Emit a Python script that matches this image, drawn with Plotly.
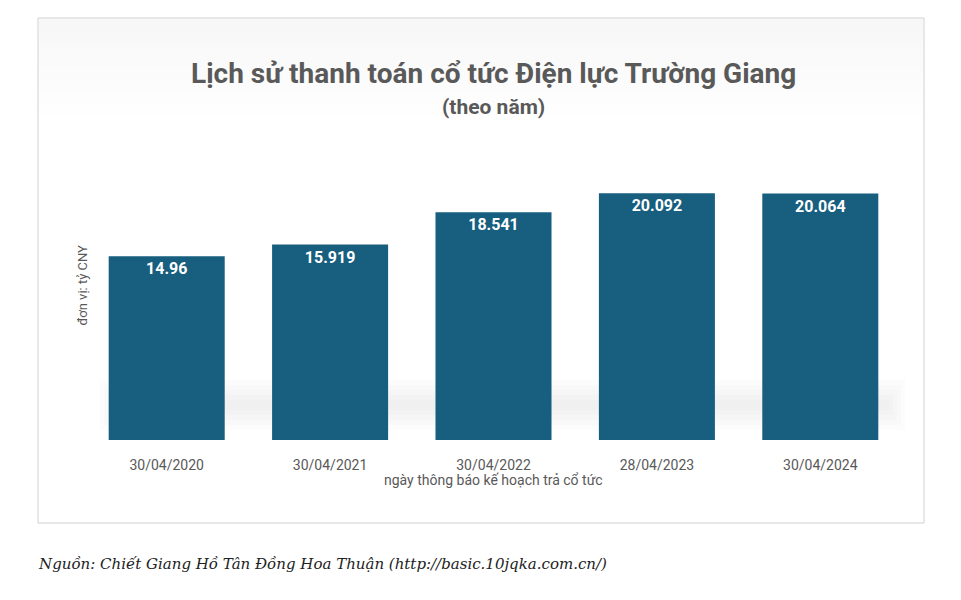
import plotly.graph_objects as go

dates = ["30/04/2020", "30/04/2021", "30/04/2022", "28/04/2023", "30/04/2024"]
dividends = [14.96, 15.919, 18.541, 20.092, 20.064]
labels = ["14.96", "15.919", "18.541", "20.092", "20.064"]

W, H = 961, 600
OFF = 8  # the page places the figure 8px from the top-left corner
L, R, T, B = 85 - OFF, 59 + OFF, 133 - OFF, 160 + OFF
pw, ph = W - L - R, H - T - B

def px(x):
    return (x - OFF - L) / pw

def py(y):
    return (H - B - (y - OFF)) / ph

fig = go.Figure()
fig.add_trace(go.Bar(
    x=dates, y=dividends, text=["<b>%s</b>" % s for s in labels], textposition="inside",
    insidetextanchor="end",
    textfont=dict(color="white", size=16, family="Roboto"),
    marker=dict(color="#175e7f", line=dict(width=0)),
    cliponaxis=False,
))

shapes = [dict(type="rect", xref="paper", yref="paper",
               x0=px(38), x1=px(924), y0=py(523), y1=py(18),
               line=dict(color="#d0d0d0", width=1), fillcolor="rgba(0,0,0,0)")]
for i in range(8):
    shapes.append(dict(type="rect", xref="paper", yref="paper", layer="below",
                       x0=px(39), x1=px(923), y0=py(19 + i * 12), y1=py(31 + i * 12),
                       line=dict(width=0), fillcolor="rgba(200,200,200,%.3f)" % (0.14 - i * 0.017)))
for i in range(6):
    shapes.append(dict(type="rect", xref="paper", yref="paper", layer="below",
                       x0=px(100 + i * 4), x1=px(905 - i * 4),
                       y0=py(430 - i * 5), y1=py(380 + i * 5),
                       line=dict(width=0), fillcolor="rgba(170,170,170,0.04)"))

fig.update_layout(
    width=W, height=H, margin=dict(l=L, r=R, t=T, b=B),
    paper_bgcolor="white", plot_bgcolor="rgba(0,0,0,0)",
    bargap=0.29, showlegend=False, shapes=shapes,
    font=dict(family="Roboto", color="#595959"),
    xaxis=dict(tickfont=dict(size=14, color="#595959"), showline=False, ticks="outside",
               ticklen=12, tickcolor="rgba(0,0,0,0)"),
    yaxis=dict(range=[0, 25], visible=False),
    annotations=[
        dict(text="<b>Lịch sử thanh toán cổ tức Điện lực Trường Giang</b>", x=0.5, y=py(55),
             xref="paper", yref="paper", showarrow=False, font=dict(size=28, color="#595959")),
        dict(text="<b>(theo năm)</b>", x=0.5, y=py(93), xref="paper", yref="paper",
             showarrow=False, font=dict(size=21, color="#595959")),
        dict(text="ngày thông báo kế hoạch trả cổ tức", x=0.5, y=py(490), xref="paper",
             yref="paper", showarrow=False, font=dict(size=14, color="#595959")),
        dict(text="đơn vị: tỷ CNY", x=px(72), y=py(285), xref="paper", yref="paper",
             textangle=-90, showarrow=False, font=dict(size=13, color="#595959")),
        dict(text="<i>Nguồn: Chiết Giang Hồ Tân Đồng Hoa Thuận (http://basic.10jqka.com.cn/)</i>",
             x=px(36), y=py(575), xref="paper", yref="paper", xanchor="left", showarrow=False,
             font=dict(size=15, color="#222222", family="DejaVu Serif")),
    ],
)
fig.write_html("out.html")
